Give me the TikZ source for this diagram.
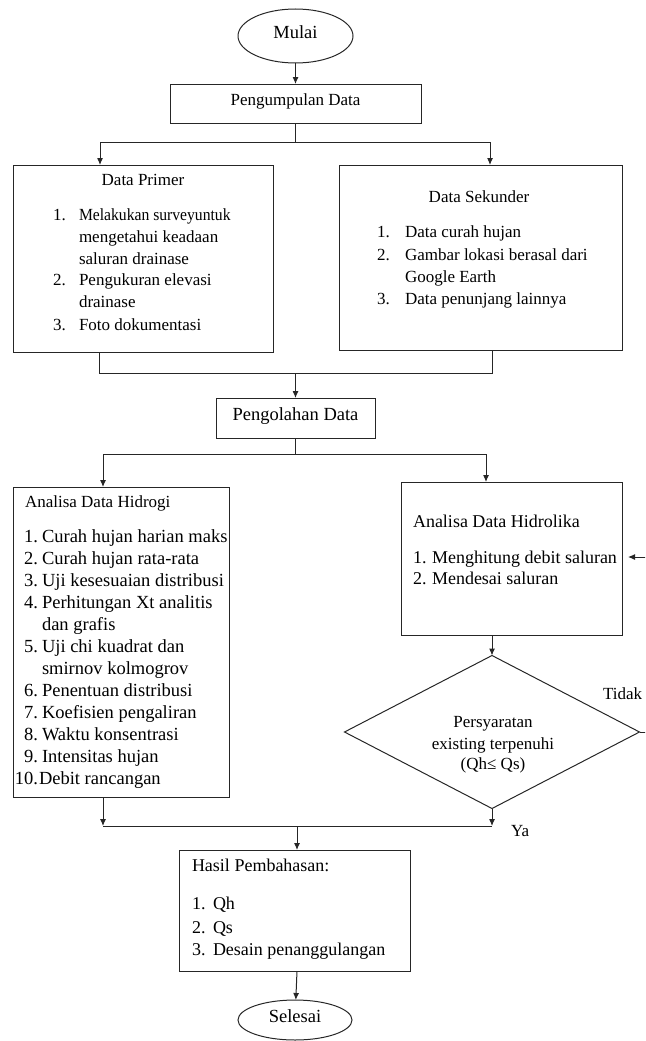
\documentclass[tikz,border=0pt]{standalone}
\usepackage{fontspec}
\usepackage{graphicx}
\setmainfont{Liberation Serif}
\usetikzlibrary{shapes.geometric,arrows.meta}
\begin{document}
\begin{tikzpicture}[x=1pt,y=-1pt,
  every node/.style={font=\fontsize{17}{22}\selectfont, inner sep=0pt, outer sep=0pt},
  big/.style={font=\fontsize{18.5}{22}\selectfont},
  mid/.style={font=\fontsize{18}{22}\selectfont},
  ln/.style={draw=black!85, line width=1pt},
  arr/.style={ln, -{Latex[length=7pt,width=6pt]}},
  box/.style={ln, rectangle},
  term/.style={ln, ellipse},
  tl/.style={anchor=mid west},
  tc/.style={anchor=mid},
  tn/.style={anchor=mid east}]
\path[use as bounding box, clip] (0,0) rectangle (645,1041);

% terminals and boxes
\node[term, minimum width=115pt, minimum height=54pt] (mulai) at (295.5,36) {};
\node[tc, big] (tmulai) at (295.5,36) {Mulai};
\node[box, minimum width=251pt, minimum height=39pt] (pk) at (295.5,103.5) {};
\node[tc] (tpk) at (295.5,103.5) {Pengumpulan Data};
\node[box, minimum width=260pt, minimum height=187pt] (prim) at (143,258.5) {};
\node[box, minimum width=283pt, minimum height=185pt] (sek) at (480.5,257.5) {};
\node[box, minimum width=159pt, minimum height=40pt] (pol) at (295.5,418) {};
\node[tc, big] (tpol) at (295.5,418) {Pengolahan Data};
\node[box, minimum width=216pt, minimum height=310pt] (hidg) at (121,642) {};
\node[box, minimum width=221pt, minimum height=153pt] (hidl) at (511.5,558.5) {};
\node[ln, diamond, minimum width=295pt, minimum height=153pt] (dia) at (492,732) {};
\node[box, minimum width=231pt, minimum height=121pt] (hasil) at (294.5,910.5) {};
\node[term, minimum width=114pt, minimum height=40pt] (sel) at (295,1020) {};
\node[tc, big] (tsel) at (295,1020) {Selesai};

% Data Primer text
\node[tc] (prt) at (143,183) {Data Primer};
\node[tl] (p1n) at (53,218) {1.};
\node[tl] (p1a) at (79,218) {\scalebox{0.92}[1]{Melakukan surveyuntuk}};
\node[tl] (p1b) at (79,240) {mengetahui keadaan};
\node[tl] (p1c) at (79,262) {saluran drainase};
\node[tl] (p2n) at (53,283) {2.};
\node[tl] (p2a) at (79,283) {Pengukuran elevasi};
\node[tl] (p2b) at (79,305) {drainase};
\node[tl] (p3n) at (53,328) {3.};
\node[tl] (p3a) at (79,328) {Foto dokumentasi};

% Data Sekunder text
\node[tc] (skt) at (479,200) {Data Sekunder};
\node[tl] (s1n) at (377,235) {1.};
\node[tl] (s1a) at (405,235) {Data curah hujan};
\node[tl] (s2n) at (377,258) {2.};
\node[tl] (s2a) at (405,258) {Gambar lokasi berasal dari};
\node[tl] (s2b) at (405,280) {Google Earth};
\node[tl] (s3n) at (377,302) {3.};
\node[tl] (s3a) at (405,302) {Data penunjang lainnya};

% Hidrologi text
\node[tl] (hgt) at (25,505) {Analisa Data Hidrogi};
\node[tn, big] (h1n) at (38,540) {1.};  \node[tl, big] (h1a) at (42,540) {Curah hujan harian maks};
\node[tn, big] (h2n) at (38,562) {2.};  \node[tl, big] (h2a) at (42,562) {Curah hujan rata-rata};
\node[tn, big] (h3n) at (38,584) {3.};  \node[tl, big] (h3a) at (42,584) {Uji kesesuaian distribusi};
\node[tn, big] (h4n) at (38,606) {4.};  \node[tl, big] (h4a) at (42,606) {Perhitungan Xt analitis};
                                        \node[tl, big] (h4b) at (42,628) {dan grafis};
\node[tn, big] (h5n) at (38,650) {5.};  \node[tl, big] (h5a) at (42,650) {Uji chi kuadrat dan};
                                        \node[tl, big] (h5b) at (42,672) {smirnov kolmogrov};
\node[tn, big] (h6n) at (38,694) {6.};  \node[tl, big] (h6a) at (42,694) {Penentuan distribusi};
\node[tn, big] (h7n) at (38,716) {7.};  \node[tl, big] (h7a) at (42,716) {Koefisien pengaliran};
\node[tn, big] (h8n) at (38,738) {8.};  \node[tl, big] (h8a) at (42,738) {Waktu konsentrasi};
\node[tn, big] (h9n) at (38,760) {9.};  \node[tl, big] (h9a) at (42,760) {Intensitas hujan};
\node[tn, big] (h10n) at (38,782) {10.}; \node[tl, big] (h10a) at (39,782) {Debit rancangan};

% Hidrolika text
\node[tl, mid] (hlt) at (413,525) {Analisa Data Hidrolika};
\node[tl, mid] (l1n) at (413,561) {1.}; \node[tl, mid] (l1a) at (432,561) {Menghitung debit saluran};
\node[tl, mid] (l2n) at (413,582) {2.}; \node[tl, mid] (l2a) at (432,582) {Mendesai saluran};

% Diamond text
\node[tc] (d1) at (493,725) {Persyaratan};
\node[tc] (d2) at (493,747) {existing terpenuhi};
\node[tc] (d3) at (493,767) {(Qh≤ Qs)};

% Hasil text
\node[tl, mid] (hst) at (192,869) {Hasil Pembahasan:};
\node[tl, mid] (r1n) at (192,907) {1.}; \node[tl, mid] (r1a) at (213,907) {Qh};
\node[tl, mid] (r2n) at (192,931) {2.}; \node[tl, mid] (r2a) at (213,931) {Qs};
\node[tl, mid] (r3n) at (192,953) {3.}; \node[tl, mid] (r3a) at (213,953) {Desain penanggulangan};

% labels
\node[tl] (ya) at (511,834) {Ya};
\node[tl] (tidak) at (603,697) {Tidak};

% helper coordinates
\coordinate (b1) at (295.5,142);
\coordinate (xpl) at (100,0);
\coordinate (xpr) at (490,0);
\coordinate (m1) at (295.5,373);
\coordinate (xql) at (99,0);
\coordinate (xqr) at (492,0);
\coordinate (b2) at (295.5,454);
\coordinate (xhl) at (103,0);
\coordinate (xhr) at (486,0);
\coordinate (jl) at (103,826);
\coordinate (jr) at (492,826);
\coordinate (jm) at (297,826);
\coordinate (xd) at (492,0);
\coordinate (loopR) at (662,732);
\coordinate (loopT) at (662,557);
\coordinate (loopEnd) at (628,557);

% connectors
\draw[arr] (mulai) -- (pk);
\draw[ln] (pk) -- (b1);
\draw[arr] (b1) -| (xpl |- prim.north);
\draw[arr] (b1) -| (xpr |- sek.north);
\draw[ln] (xql |- prim.south) |- (m1);
\draw[ln] (xqr |- sek.south) |- (m1);
\draw[arr] (m1) -- (pol);
\draw[ln] (pol) -- (b2);
\draw[arr] (b2) -| (xhl |- hidg.north);
\draw[arr] (b2) -| (xhr |- hidl.north);
\draw[arr] (xd |- hidl.south) -- (dia.north);
\draw[arr] (xhl |- hidg.south) -- (jl);
\draw[arr] (dia.south) -- (jr);
\draw[ln] (jl) -- (jr);
\draw[arr] (jm) -- (jm |- hasil.north);
\draw[arr] (jm |- hasil.south) -- (sel);
\draw[arr] (dia.east) -- (loopR) -- (loopT) -- (loopEnd);
\end{tikzpicture}
\end{document}
